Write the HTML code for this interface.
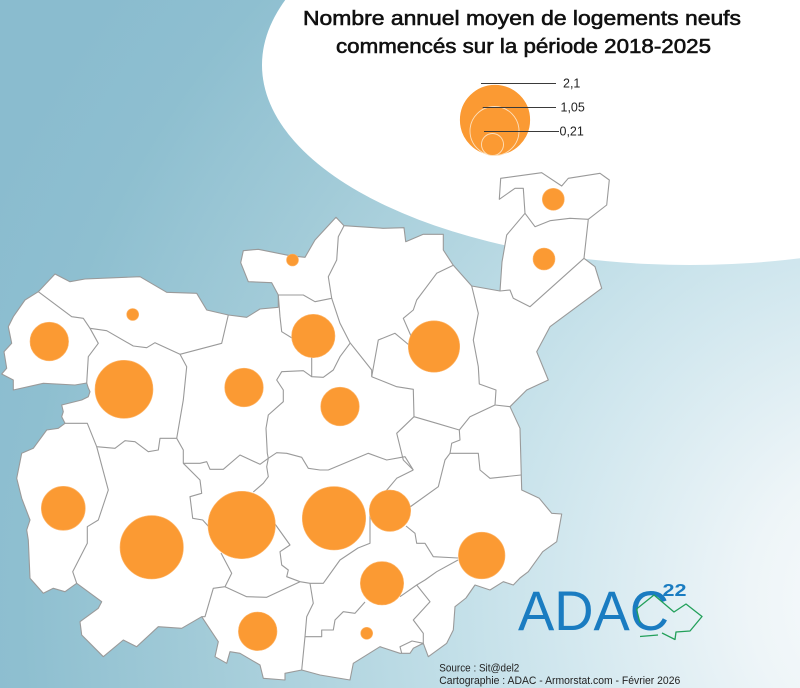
<!DOCTYPE html>
<html>
<head>
<meta charset="utf-8">
<style>
html,body{margin:0;padding:0;width:800px;height:688px;overflow:hidden;background:#8bbdcf;}
svg{display:block;}
text{font-family:"Liberation Sans",sans-serif;}
</style>
</head>
<body>
<svg width="800" height="688" viewBox="0 0 800 688" xmlns="http://www.w3.org/2000/svg">
<defs>
<radialGradient id="bg" gradientUnits="userSpaceOnUse" cx="900" cy="600" r="1000">
<stop offset="0" stop-color="#fafcfd"/>
<stop offset="0.15" stop-color="#eef5f8"/>
<stop offset="0.33" stop-color="#d3e8ef"/>
<stop offset="0.45" stop-color="#c2dfe8"/>
<stop offset="0.7" stop-color="#a2cbd8"/>
<stop offset="0.88" stop-color="#8ebfd0"/>
<stop offset="1" stop-color="#8abccf"/>
</radialGradient>
</defs>
<rect x="0" y="0" width="800" height="688" fill="url(#bg)"/>
<ellipse cx="690" cy="65" rx="428" ry="200" fill="#ffffff"/>

<!-- Map outline -->
<polygon fill="#ffffff" stroke="#9a9a9a" stroke-width="1.1" stroke-linejoin="round" points="38.3,291.7 55,274 70,281.7 85,279 140,276.7 166.7,292.3 196.7,293.3 206.7,310 228.3,315 246.7,317.3 260,309 278.3,307.3 278.3,295 271.7,282.7 248.3,281.7 240.7,262.7 243.3,250.7 258.3,249.3 290,255.7 305,257.3 315,240 336,217.3 344,225.7 383.3,228.3 404,227.7 405.7,241.7 423.3,234.3 443.3,234.3 443.3,250 453.3,265.3 471.7,286 500,291 502,262 506.7,235 525,213.3 523.3,188.3 515,188.3 499.3,199.3 500.7,178.3 541.7,172.7 561.7,186 568.3,178.3 600,173.3 609.3,180 606.7,205 588.3,219.3 584,258.3 595,266.7 601.7,288.3 550,326.7 536.7,351.7 548.3,380 526.7,390 510,406.7 520,428.3 521.7,490 539.3,498.3 551.7,513.3 561.7,514 556.7,541.7 542.7,551.7 528.3,571.7 520,578 513.3,585 503.3,581.7 490,590 475,585 466,598 455,606.7 453.3,630 446.7,643.3 428.3,656.7 423.3,643.3 413.3,648.3 410,653.3 400,653.3 380,646.7 353.3,663.3 350,680 320,675 301.7,670 285,673.3 285,680 263.3,678.3 260,665 240,653.3 230,651.7 226.7,663.3 215,656.7 218.3,641.7 205,621.7 201.7,616.7 181.7,628.3 158.3,626.7 136.7,646.7 123.3,640 103.3,656.7 81.7,635 80,621.7 98.3,608.3 101.7,601.7 76.7,583.3 65,591.7 53.3,588.3 43.3,593.3 30,578.3 28.3,540 26.7,530 30,520 21.7,498.3 16.7,478.3 21.7,453.3 33.3,448.3 46.7,430 58.3,428.3 65,423.3 61.7,416.7 63.3,411.7 61.7,405 81.7,400 88.3,396.7 90,391.7 88.3,388 86.7,383 75,385 43.3,383.3 13.3,390 13.3,380 1.7,374 6.7,368.3 4,351.7 11.7,343.3 8.3,326.7 13.3,316.7 25,300"/>

<!-- Internal borders -->
<g fill="none" stroke="#9a9a9a" stroke-width="1.1" stroke-linejoin="round">
<polyline points="38.3,291.7 71.7,316.7 83.3,318.3 90,328.3 98.3,343.3 88.3,356.7 86.7,383"/>
<polyline points="90,328.3 106.7,330.7 133.3,346 146.7,347.7 155,342.7 180,354.3 221.7,343.3 228.3,315"/>
<polyline points="180,354.3 186.7,366.7 183.3,400 176.7,438.3"/>
<polyline points="65,423.3 87.3,423.3 96.7,446.7 115,448.3 125,440.7 135,441.7 148.3,451.7 158.3,450 160,438.3 176.7,438.3"/>
<polyline points="176.7,438.3 183.3,450 183.3,463.3 200,463.3 206.7,461.7 210,469.3 223.3,469.3 240,455 260,464.3 268.3,458.3 276.7,452.7 286.7,453.3 301.7,457.3 308.3,468.3 320,470 328.3,470 368.3,453.3 386.7,460 405,456.7 413.3,470"/>
<polyline points="268.3,458.3 267.3,453.3 266,428.3 268.3,415 283.3,401.7 283.3,390 276.7,380 281.7,371.7 303.3,370.7 311.7,376.7 323.3,377.3 333.3,370 340,356.7 350,343.3"/>
<polyline points="268.3,458.3 266.7,466.7 268.3,476.7 263.3,483.3 253.3,492"/>
<polyline points="311.7,376.7 311.7,357"/>
<polyline points="278.3,295 280,316.7 281.7,331.7 292,338"/>
<polyline points="278.3,295 303.3,295 315,301.7 331.7,298.3 328.3,276.7 336.7,260 338.3,236.7 344,225.7"/>
<polyline points="331.7,298.3 340,323.3 350,342.7 371.7,370 371.7,376.7"/>
<polyline points="371.7,376.7 378.3,340 395,333.3 409,345"/>
<polyline points="453.3,265.3 436.7,273.3 426.7,286.7 416.7,300 413.3,310 403.3,318.3 411,336"/>
<polyline points="371.7,376.7 396.7,386.7 413.3,389.3 414,416.7 396.7,433.3 403.3,460 413.3,470"/>
<polyline points="471.7,286 478.3,313.3 473.3,340 478.3,366.7 479.3,384 496,390 495,405 510,406.7"/>
<polyline points="414,416.7 436.7,423.3 459.3,430 460,440 451.7,443.3 450,453.3 478.3,453.3 480,470 490,478.3 521,475"/>
<polyline points="459.3,430 470,416.7 495,405"/>
<polyline points="450,453.3 445,460 438.3,486.7 410,507"/>
<polyline points="406,526 415,533.3 416.7,543.3 425,543.3 433.3,556.7 458,558"/>
<polyline points="413.3,470 396.7,478.3 386,491"/>
<polyline points="370,510 370,543.3 358,548 340,560 323.3,583.3 310,583.3 300,581.7"/>
<polyline points="310,583.3 313.3,603.3 306.7,616.7 305,636.7 301.7,670"/>
<polyline points="305,636.7 321.7,636.7 321.7,630 333.3,630 335,620 343.3,611.7 355,613.3 365,602"/>
<polyline points="400,596.7 416.7,585 425,580 436.7,571.7 458,560"/>
<polyline points="416.7,585 430,601.7 413.3,620 423.3,633.3 423.3,643.3"/>
<polyline points="401.7,653.3 400,646.7 412,641 423.3,643.3"/>
<polyline points="183.3,463.3 200,480 201.7,493.3 190,496.7 192.7,518.3 202.7,520 209,527"/>
<polyline points="221,553 231.7,573.3 225,586.7 213.3,588.3 205,616.7 201.7,616.7"/>
<polyline points="225,586.7 246.7,596.7 266.7,597.3 300,581.7"/>
<polyline points="275,524 290,545 280,551.7 281.7,565 288.3,570 286.7,576.7 300,581.7"/>
<polyline points="96.7,446.7 108.3,490 98.3,520 87.3,526.7 87.3,543.3 72.7,571.7 76.7,583.3"/>
<polyline points="525,213.3 535,226.7 550,220.7 570,218.3 588.3,219.3"/>
<polyline points="500,291 510,290 513.3,298.3 530,306.7 584,258.3"/>
</g>

<!-- Proportional circles -->
<g fill="#fb9a33" stroke="#fdb56a" stroke-width="0.6">
<circle cx="553.3" cy="199.3" r="11"/>
<circle cx="544" cy="259" r="11"/>
<circle cx="292.5" cy="260" r="6"/>
<circle cx="132.7" cy="314.5" r="6"/>
<circle cx="49.3" cy="341.5" r="19.3"/>
<circle cx="124" cy="389.3" r="29"/>
<circle cx="313.3" cy="336" r="21.7"/>
<circle cx="434" cy="346.5" r="25.7"/>
<circle cx="244" cy="387.5" r="19.3"/>
<circle cx="340" cy="406.5" r="19.3"/>
<circle cx="63.3" cy="508.3" r="22"/>
<circle cx="151.7" cy="547.3" r="31.7"/>
<circle cx="241.7" cy="525" r="33.7"/>
<circle cx="334" cy="518.3" r="31.7"/>
<circle cx="390" cy="510.7" r="20.7"/>
<circle cx="481.7" cy="555.5" r="23.3"/>
<circle cx="382" cy="583.3" r="21.7"/>
<circle cx="257.7" cy="631.3" r="19.3"/>
<circle cx="366.7" cy="633.3" r="6"/>
</g>

<!-- Title -->
<text x="303" y="25" font-size="20.5" fill="#111" stroke="#111" stroke-width="0.6" textLength="438" lengthAdjust="spacingAndGlyphs">Nombre annuel moyen de logements neufs</text>
<text x="336" y="53" font-size="20.5" fill="#111" stroke="#111" stroke-width="0.6" textLength="375" lengthAdjust="spacingAndGlyphs">commencés sur la période 2018-2025</text>

<!-- Legend -->
<circle cx="495" cy="120" r="35.5" fill="#fb9a33" stroke="#ffffff" stroke-width="0.8"/>
<circle cx="494.5" cy="131" r="24.5" fill="#fb9a33" stroke="#fde0bd" stroke-width="0.9"/>
<circle cx="492.5" cy="144.5" r="11" fill="#fb9a33" stroke="#fde0bd" stroke-width="0.9"/>
<g stroke="#3a3a3a" stroke-width="1">
<line x1="481" y1="83.5" x2="556" y2="83.5"/>
<line x1="482.7" y1="107.5" x2="556" y2="107.5"/>
<line x1="484" y1="131.5" x2="559" y2="131.5"/>
</g>
<g font-size="12.5" fill="#222">
<text x="563" y="87.5">2,1</text>
<text x="560.5" y="111.5">1,05</text>
<text x="559.5" y="135.5">0,21</text>
</g>

<!-- Logo -->
<text x="518" y="630" font-size="56" fill="#1a7cc1" textLength="151" lengthAdjust="spacingAndGlyphs">ADAC</text>
<text x="662.5" y="596" font-size="17.5" font-weight="bold" fill="#1a7cc1" textLength="24" lengthAdjust="spacingAndGlyphs">22</text>
<g fill="none" stroke="#22a05a" stroke-width="1.3" stroke-linejoin="round">
<polyline points="640,623 636.5,609 654,595 674,612 686,604 702,616.5 690,631 676,632 675,639.5 662,633"/>
<polyline points="658,635 640,636.5"/>
</g>

<!-- Source -->
<text x="439.3" y="671.5" font-size="11" fill="#222" textLength="80" lengthAdjust="spacingAndGlyphs">Source : Sit@del2</text>
<text x="439.3" y="684" font-size="11" fill="#222" textLength="241" lengthAdjust="spacingAndGlyphs">Cartographie : ADAC - Armorstat.com - Février 2026</text>
</svg>
</body>
</html>
